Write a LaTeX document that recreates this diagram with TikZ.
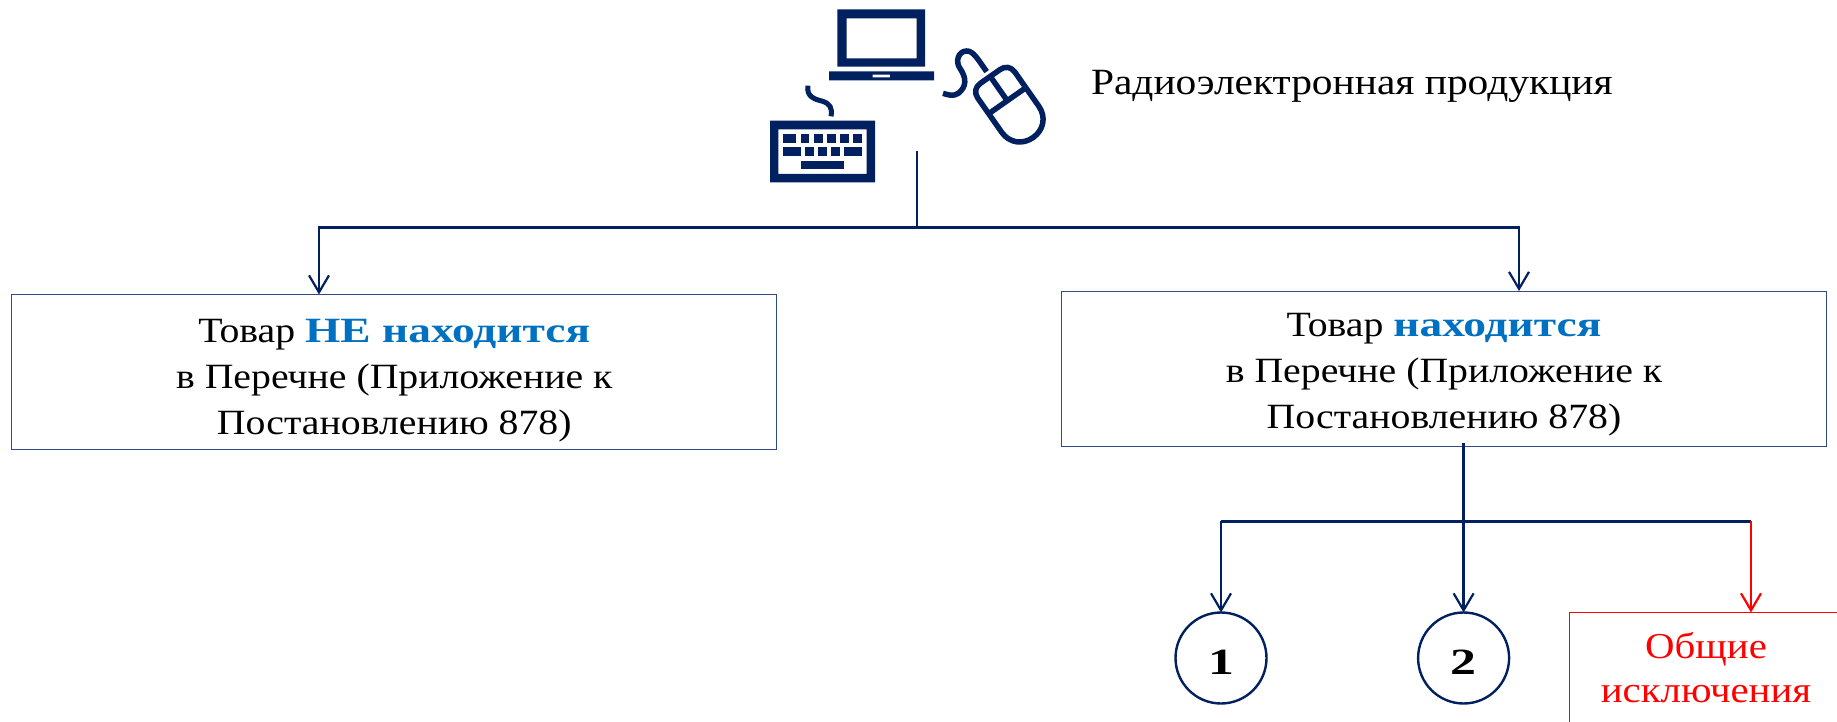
\documentclass[tikz,border=0pt]{standalone}
\usepackage{fontspec}
\setmainfont[FakeStretch=1.12,BoldFeatures={FakeStretch=1.28}]{Liberation Serif}
\newfontfamily\numfont[FakeStretch=1.4]{Liberation Serif}
\usetikzlibrary{arrows.meta}
\definecolor{navy}{HTML}{002060}
\definecolor{boxedge}{HTML}{2F4B8A}
\definecolor{accent}{HTML}{0070C0}
\tikzset{
  x=1pt,y=-1pt,
  every node/.style={inner sep=0pt,outer sep=0pt},
  conn/.style={draw=navy,line width=2.4pt},
  arr/.style={conn,-{Straight Barb[length=17pt,width=20pt,line width=2.2pt]}},
  redarr/.style={draw=red,line width=2.4pt,-{Straight Barb[length=17pt,width=20pt,line width=2.2pt]}},
  listbox/.style={draw=boxedge,line width=1pt,minimum width=765pt,minimum height=155pt,align=center,
    font=\fontsize{35.5}{46}\selectfont,text=black},
  numcircle/.style={circle,draw=navy,line width=2.4pt,minimum size=91pt,font=\numfont\bfseries\fontsize{37}{37}\selectfont,text=black},
  exbox/.style={draw=red,line width=1pt,minimum width=274pt,minimum height=111pt,align=center,
    font=\fontsize{36.5}{44}\selectfont,text=red},
  icon/.style={fill=navy,draw=none},
  iconline/.style={draw=navy,line cap=butt,fill=none},
}
\begin{document}
\begin{tikzpicture}
\useasboundingbox (0,0) rectangle (1837,722);
% laptop, keyboard, mouse
\begin{scope}[shift={(740,0)},scale=1/3]
  \path[icon,even odd rule] (292,28) rectangle (555,200) (320,55) rectangle (530,175);
  \path[icon,even odd rule] (267,214) rectangle (582,241) (398,224) rectangle (450,232);
  \path[icon,even odd rule] (90,362) rectangle (405,547) (115,388) rectangle (380,522);
  \foreach \a/\b in {130/168,182/208,222/248,261/287,300/326,339/365}
    \path[icon] (\a,402) rectangle (\b,428);
  \foreach \a/\b in {130/182,195/221,235/261,274/300,313/365}
    \path[icon] (\a,442) rectangle (\b,468);
  \path[icon] (182,482) rectangle (313,508);
  \draw[iconline,line width=5pt] (204,257) .. controls (198,290) and (225,298) .. (245,303) .. controls (270,310) and (278,325) .. (273,349);
  \draw[iconline,line width=5.5pt] (740,215) .. controls (715,180) and (700,152) .. (680,153) .. controls (655,153) and (645,185) .. (660,205) .. controls (680,235) and (680,260) .. (655,280) .. controls (640,290) and (625,285) .. (609,280);
  \begin{scope}[shift={(815,321)},rotate=35]
    \draw[iconline,line width=5.5pt,line join=round] (-36,-112) -- (36,-112) .. controls (55,-112) and (68,-100) .. (68,-80) -- (68,45) .. controls (68,85) and (38,112) .. (0,112) .. controls (-38,112) and (-68,85) .. (-68,45) -- (-68,-80) .. controls (-68,-100) and (-55,-112) .. (-36,-112) -- cycle;
    \draw[iconline,line width=5.5pt] (-68,-23) -- (68,-23) (0,-112) -- (0,-23);
  \end{scope}
\end{scope}
\node[anchor=base west,font=\fontsize{37}{46}\selectfont,text=black] (title) at (1091,95) {Радиоэлектронная продукция};
% boxes
\node[listbox] (boxL) at (394.25,372) {\rule{0pt}{40pt}Товар \textcolor{accent}{\textbf{НЕ находится}}\\в Перечне (Приложение к\\Постановлению 878)};
\node[listbox] (boxR) at (1444,368.5) {\rule{0pt}{36pt}Товар \textcolor{accent}{\textbf{находится}}\\в Перечне (Приложение к\\Постановлению 878)};
\node[numcircle] (c1) at (1221,658) {\rule{0pt}{32pt}1};
\node[numcircle] (c2) at (1463.6,658) {\rule{0pt}{32pt}2};
\node[exbox] (ex) at (1706,668) {Общие\\исключения};
% connectors
\coordinate (top) at (917,151);
\coordinate (topj) at (917,227.5);
\coordinate (topL) at (319,227.5);
\coordinate (topR) at (1519,227.5);
\draw[conn] (top) -- (topj);
\draw[conn,line cap=rect] (topL) -- (topR);
\draw[arr] (topL) -- (topL |- boxL.north);
\draw[arr] (topR) -- (topR |- boxR.north);
\coordinate (stem) at (1463.6,443);
\coordinate (lowL) at (1221,521);
\coordinate (lowR) at (1751,521);
\draw[conn,line width=3pt] (lowL) -- (lowR);
\draw[arr] (stem) -- (c2.north);
\draw[arr] (lowL) -- (c1.north);
\draw[redarr] (lowR) -- (lowR |- ex.north);
\end{tikzpicture}
\end{document}
